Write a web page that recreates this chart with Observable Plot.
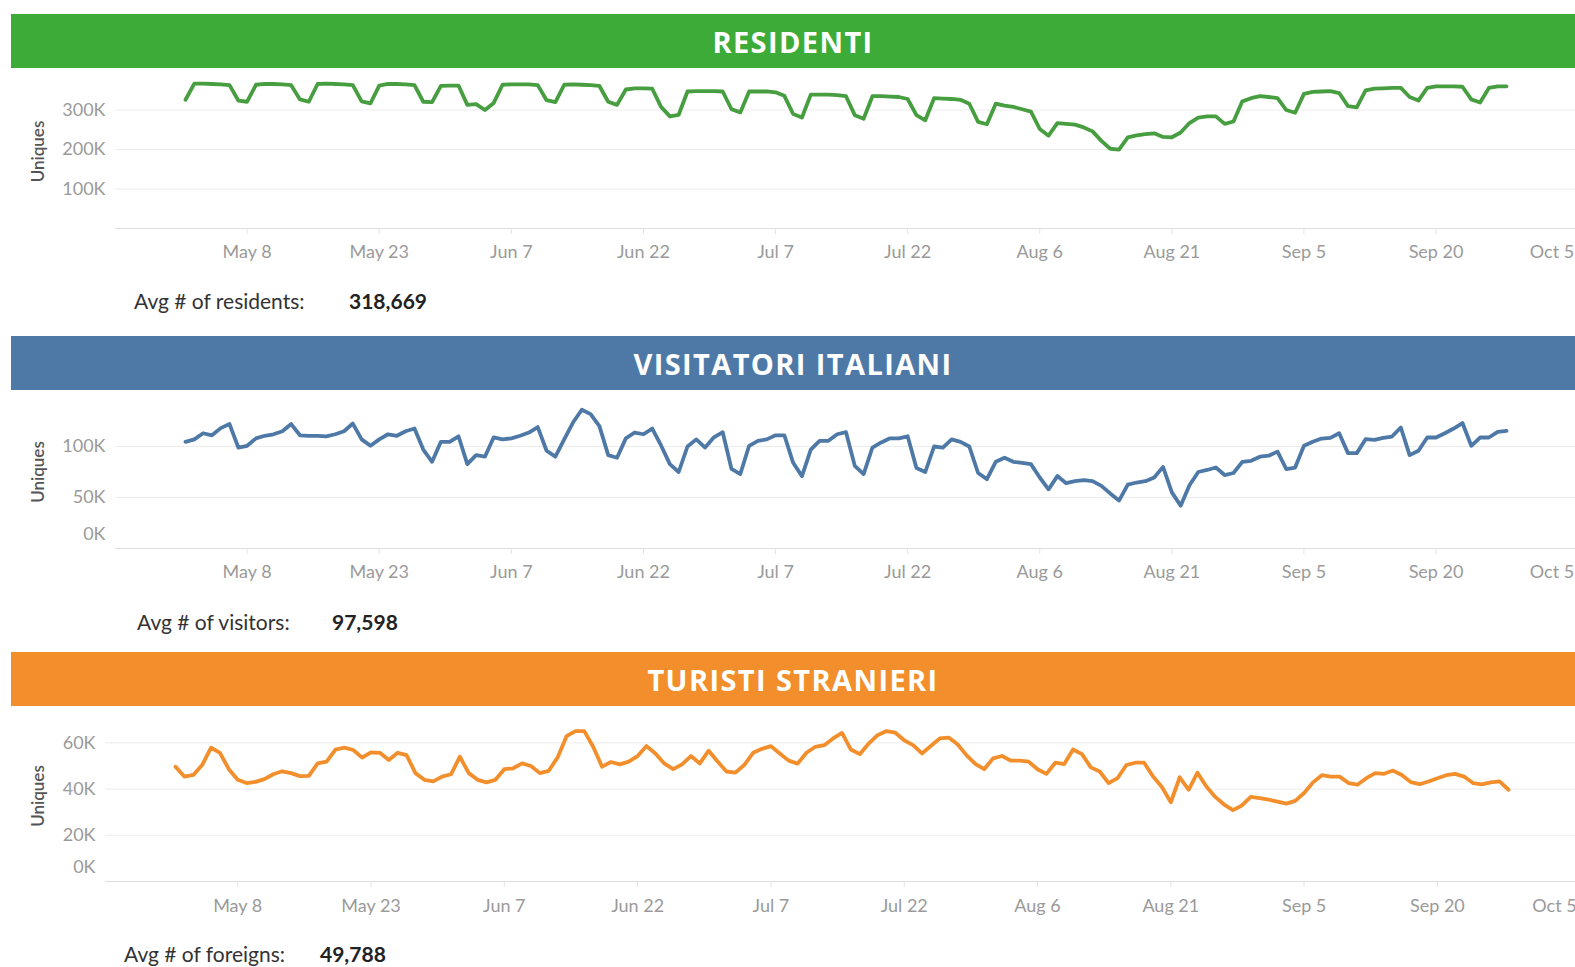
<!DOCTYPE html>
<html><head><meta charset="utf-8">
<script src="https://cdn.jsdelivr.net/npm/d3@7"></script>
<script src="https://cdn.jsdelivr.net/npm/@observablehq/plot@0.6"></script>
<style>
html,body{margin:0;padding:0;background:#fff}
body{width:1575px;height:967px;overflow:hidden;position:relative;font-family:Lato,"Open Sans",sans-serif}
.banner{position:absolute;left:11px;width:1564px;height:54px;color:#fff;font-family:"Open Sans",sans-serif;font-weight:700;font-size:29px;letter-spacing:1.4px;display:flex;align-items:center;justify-content:center}
.panel{position:absolute;left:0}
.panel svg{display:block;overflow:visible}
.avg{position:absolute;font-size:21px;color:#333;line-height:24px;white-space:nowrap}
.avg b{position:absolute;top:0;font-weight:700;color:#222}
</style></head>
<body>
<div class="banner" id="b1" style="top:14px;background:#3dab37">RESIDENTI</div>
<div class="panel" id="p1" style="top:68px"></div>
<div class="avg" style="left:134px;top:289px">Avg # of residents:<b style="left:215px">318,669</b></div>
<div class="banner" id="b2" style="top:336px;background:#4e79a7">VISITATORI ITALIANI</div>
<div class="panel" id="p2" style="top:389px"></div>
<div class="avg" style="left:137px;top:610px">Avg # of visitors:<b style="left:195px">97,598</b></div>
<div class="banner" id="b3" style="top:652px;background:#f28e2b">TURISTI STRANIERI</div>
<div class="panel" id="p3" style="top:705px"></div>
<div class="avg" style="left:124px;top:942px">Avg # of foreigns:<b style="left:196px">49,788</b></div>
<script>
// Daily dates: 1 May 2016 .. 28 Sep 2016
const startDate = "2016-05-01";
const endDate = "2016-09-29";
const tickLabels = ["2016-05-08","2016-05-23","2016-06-07","2016-06-22","2016-07-07","2016-07-22","2016-08-06","2016-08-21","2016-09-05","2016-09-20"];
const lastTickLabel = "2016-10-05";

// Residents (thousands)
const residents = [326,367,367,366,365,363,324,321,364,366,366,365,363,327,321,366,367,366,365,363,322,317,362,366,366,365,363,321,320,361,
362,362,313,315,300,318,364,365,365,365,363,325,320,364,365,364,363,361,321,313,352,355,355,354,308,284,288,347,348,348,
348,347,302,294,347,347,347,345,336,290,281,339,339,339,338,335,287,278,335,335,334,333,328,287,274,330,329,328,326,316,
270,264,316,311,308,302,296,252,235,267,265,263,256,246,222,202,200,231,236,239,241,232,231,243,267,281,284,284,265,271,
322,330,335,333,330,300,293,341,346,347,348,343,310,307,350,354,355,356,356,333,324,356,360,360,360,359,327,319,356,360,360];

// Italian visitors (thousands)
const visitors = [104.6,107,113,111,118,122,99,100.7,108,110.5,112,115,122,111,110.5,110.5,110,112,115,122.5,107,100.7,107,112,110.5,115,117.6,97,85,104.6,
104.6,110,82.7,91.5,90,109,107,108,110.5,113.7,119,95.8,90,107,123.5,136,131.7,120,91.5,89,108,113.7,112,117.6,101,82.7,75,100,107,99,
109,114,78,73,100.7,105.6,107,111,111,84,71,97,105.6,105.6,112,114,81,73,99,104,108,108,110,79,75,100,99,107,104.6,100,
74,68,85,89,85,84,82.7,69.6,58,71,64,66,67,66,61.4,54,47,62.7,64.7,66,69.6,80,55,42,62,75,77,79.4,72,74,
85,86,90,91,95,77.8,79.4,100.7,104.6,107.8,108.5,113,93.5,93.5,107.2,106.5,108.5,109.8,118.6,91.5,95.8,108.8,108.8,113,117.6,123,100.7,108.8,108.8,114.4,115.4];

// Foreign tourists (thousands)
const foreigners = [49.7,45.4,46.1,50.4,57.9,55.7,48.6,44,42.6,43.1,44.3,46.4,47.7,46.9,45.6,45.7,51.1,51.9,57.1,57.9,56.9,53.6,55.9,55.7,52.6,55.7,54.7,46.9,44,43.3,
45.4,46.4,54,46.9,44,42.9,44,48.6,49,51.1,50,46.9,47.9,53.7,62.9,65.1,65.1,58.3,49.7,51.7,50.7,51.9,54.3,58.6,55.4,51.1,48.6,50.7,54.3,51.1,
56.6,51.9,47.6,47.1,50.4,55.7,57.4,58.6,55.4,52.3,51,55.7,58.3,59,61.9,64.3,57.1,55.1,59.7,63.3,65.1,64.4,61.1,59,55.4,58.7,61.9,62.3,59.4,54.7,
50.9,48.6,53.3,54.3,52.3,52.3,51.9,48.6,46.6,51.4,50.8,57.1,55.1,49.4,47.6,42.6,44.7,50.4,51.4,51.4,45.4,40.9,34.3,45.1,39.7,47.1,41.1,36.6,33.3,30.9,
32.9,36.6,36.1,35.4,34.6,33.7,34.9,38.3,42.9,46,45.4,45.4,42.6,41.9,44.7,46.9,46.6,48,46.1,43,42.1,43.3,44.7,46,46.6,45.4,42.6,42,42.9,43.3,39.7];

const resTicks = [100, 200, 300];
const visTicks = [50, 100];
const forTicks = [20, 40, 60];

const dates = d3.utcDays(new Date(startDate + "T00:00Z"), new Date(endDate + "T00:00Z"));
const parse = s => new Date(s + "T00:00Z");
const fmt = d3.utcFormat("%b %-d");

function panel({values, color, yMax, yTicks, showZero, marginLeft, xRange, height, marginTop, marginBottom, labelPad}) {
  const data = dates.map((d, i) => ({date: d, value: values[i] * 1000}));
  const ticks = yTicks.map(t => t * 1000);
  const textStyle = {fill: "#9a9a9a", fontSize: 18};
  return Plot.plot({
    width: 1575, height, marginLeft, marginRight: 0, marginTop, marginBottom,
    style: {fontFamily: "Lato, sans-serif", fontSize: "18px", background: "transparent", overflow: "visible"},
    x: {type: "utc", domain: [dates[0], dates[dates.length - 1]], range: xRange},
    y: {domain: [0, yMax * 1000]},
    marks: [
      Plot.gridY(ticks, {stroke: "#ececec", strokeOpacity: 1}),
      Plot.ruleY([0], {stroke: "#dedede"}),
      Plot.axisY(ticks, {tickSize: 0, tickPadding: 10, tickFormat: d => d / 1000 + "K", label: null, ...textStyle}),
      showZero ? Plot.axisY([0], {tickSize: 0, tickPadding: 10, tickFormat: () => "0K", label: null, dy: -14, ...textStyle}) : null,
      Plot.axisX(tickLabels.map(parse), {tickSize: 6, stroke: "#e3e3e3", tickPadding: labelPad, tickFormat: fmt, label: null, ...textStyle}),
      Plot.axisX([parse(lastTickLabel)], {tickSize: 0, tickPadding: labelPad + 6, tickFormat: fmt, label: null, textAnchor: "end", dx: 6, ...textStyle}),
      Plot.text(["Uniques"], {frameAnchor: "left", textAnchor: "middle", rotate: -90, dx: -(marginLeft - 38), fill: "#555", fontSize: 17, fontWeight: 600}),
      Plot.lineY(data, {x: "date", y: "value", stroke: color, strokeWidth: 3.8, strokeLinejoin: "round"})
    ]
  });
}

document.getElementById("p1").append(panel({
  values: residents, color: "#479e40", yMax: 390, yTicks: resTicks, showZero: false,
  marginLeft: 115, xRange: [185, 1506], height: 200, marginTop: 6, marginBottom: 40, labelPad: 11
}));
document.getElementById("p2").append(panel({
  values: visitors, color: "#4e79a7", yMax: 150, yTicks: visTicks, showZero: true,
  marginLeft: 115, xRange: [185, 1506], height: 200, marginTop: 6, marginBottom: 41, labelPad: 11
}));
document.getElementById("p3").append(panel({
  values: foreigners, color: "#f28e2b", yMax: 74, yTicks: forTicks, showZero: true,
  marginLeft: 105, xRange: [175, 1508], height: 220, marginTop: 5, marginBottom: 44, labelPad: 12
}));
</script>
</body></html>
